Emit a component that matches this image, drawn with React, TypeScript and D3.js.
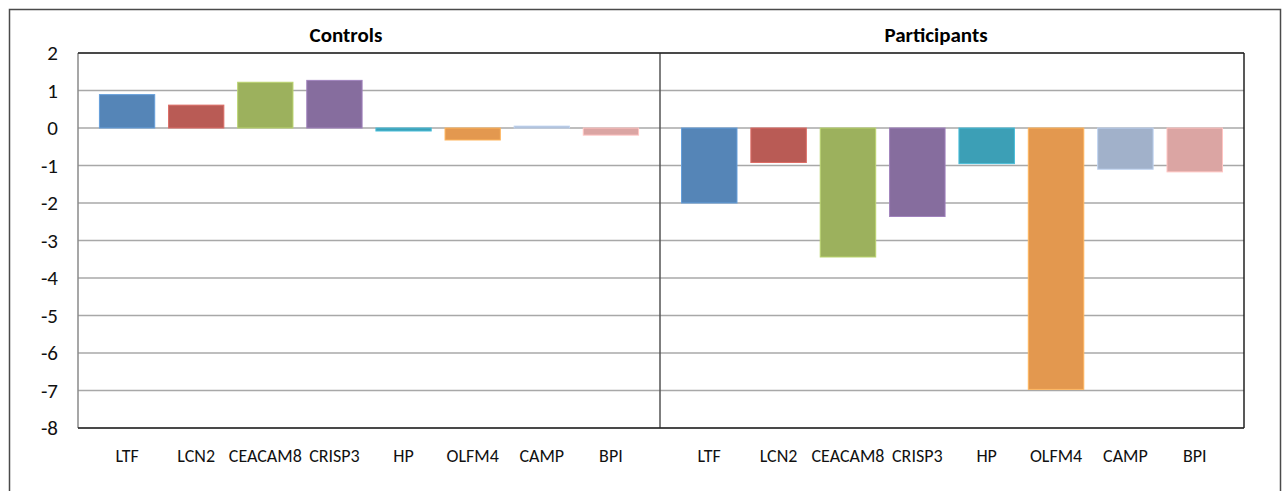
import React from 'react';
import * as d3 from 'd3';

// gene order is the same in both panels
const genes = ['LTF', 'LCN2', 'CEACAM8', 'CRISP3', 'HP', 'OLFM4', 'CAMP', 'BPI'];
const controls = [0.89, 0.61, 1.22, 1.27, -0.08, -0.32, 0.05, -0.19];
const participants = [-2.0, -0.92, -3.44, -2.36, -0.95, -6.97, -1.1, -1.17];
const panelTitles = ['Controls', 'Participants'];
const yTicks = [2, 1, 0, -1, -2, -3, -4, -5, -6, -7, -8];
const barColors = ['#5585b7', '#b95b55', '#9cb15d', '#866d9e', '#3c9fb6', '#e3984f', '#a1b1ca', '#dba5a3'];

const W = 1282;
const H = 491;
const plot = { left: 78, top: 53, right: 1244, bottom: 428, split: 660 };
const font = 'Carlito, "Liberation Sans Narrow", "Open Sans", sans-serif';

const App: React.FC = () => {
    const y = d3.scaleLinear().domain([2, -8]).range([plot.top, plot.bottom]);

    const panels = [
        { title: panelTitles[0], values: controls, x0: plot.left, x1: plot.split, titleX: 346 },
        { title: panelTitles[1], values: participants, x0: plot.split, x1: plot.right, titleX: 936 },
    ];

    return (
        <svg width={W} height={H} style={{ position: 'absolute', left: 0, top: 0 }} fontFamily={font}>
            <rect x={0} y={0} width={W} height={H} fill="#fff" />
            {/* outer chart frame */}
            <rect x={9.5} y={9.5} width={1271} height={500} fill="none" stroke="#4a4a4a" strokeWidth={1.5} />

            {/* gridlines */}
            {yTicks.map((t) => (
                <line key={t} x1={plot.left} x2={plot.right} y1={y(t)} y2={y(t)} stroke="#a8a8a8" strokeWidth={1.5} />
            ))}

            {panels.map((p, pi) => {
                const x = d3.scaleBand<string>()
                    .domain(genes)
                    .range([p.x0, p.x1])
                    .paddingInner(0.2)
                    .paddingOuter(0.31);
                return (
                    <g key={p.title}>
                        {p.values.map((v, i) => {
                            const c = barColors[i];
                            const top = y(Math.max(0, v));
                            const h = Math.abs(y(v) - y(0));
                            return (
                                <rect
                                    key={genes[i]}
                                    x={x(genes[i])}
                                    y={top}
                                    width={x.bandwidth()}
                                    height={Math.max(h, 1)}
                                    fill={c}
                                    stroke={d3.color(c)!.brighter(0.5).formatHex()}
                                    strokeWidth={1}
                                />
                            );
                        })}
                        {genes.map((g) => (
                            <text
                                key={g}
                                x={(x(g) as number) + x.bandwidth() / 2}
                                y={456}
                                textAnchor="middle"
                                dominantBaseline="central"
                                fontSize={18}
                                fill="#111"
                            >
                                {g}
                            </text>
                        ))}
                        <text x={p.titleX} y={35} textAnchor="middle" dominantBaseline="central" fontSize={21} fontWeight="bold" fill="#000">
                            {p.title}
                        </text>
                        {pi === 1 && (
                            <line x1={p.x0} x2={p.x0} y1={plot.top} y2={plot.bottom} stroke="#555" strokeWidth={1.5} />
                        )}
                    </g>
                );
            })}

            {/* plot border */}
            <line x1={plot.left} x2={plot.left} y1={plot.top} y2={plot.bottom} stroke="#8a8a8a" strokeWidth={1.5} />
            <line x1={plot.left} x2={plot.right} y1={plot.top} y2={plot.top} stroke="#222" strokeWidth={1.5} />
            <line x1={plot.right} x2={plot.right} y1={plot.top} y2={plot.bottom} stroke="#222" strokeWidth={1.5} />
            <line x1={plot.left} x2={plot.right} y1={plot.bottom} y2={plot.bottom} stroke="#222" strokeWidth={1.5} />

            {/* y axis labels */}
            {yTicks.map((t) => (
                <text key={t} x={58} y={y(t)} textAnchor="end" dominantBaseline="central" fontSize={21} fill="#111">
                    {t}
                </text>
            ))}
        </svg>
    );
};

export default App;
